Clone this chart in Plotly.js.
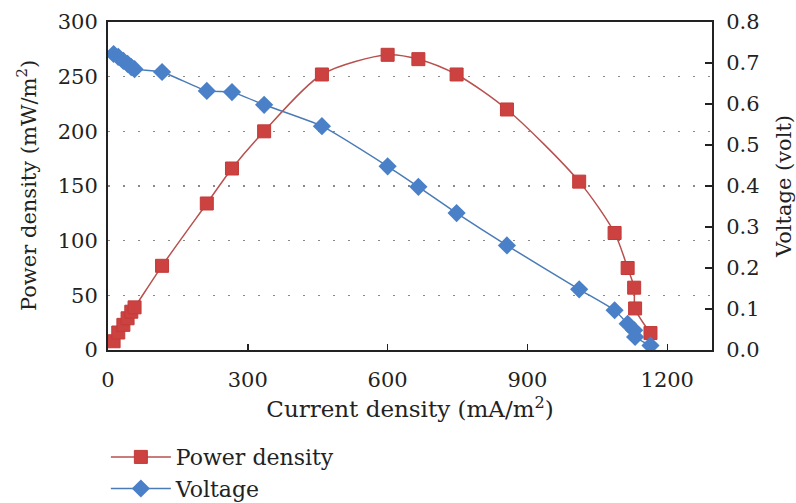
<!DOCTYPE html>
<html>
<head>
<meta charset="utf-8">
<script src="https://cdn.plot.ly/plotly-3.0.1.min.js"></script>
<style>html,body{margin:0;padding:0;background:#fff;}#chart{width:796px;height:503px;}</style>
</head>
<body>
<div id="chart"></div>
<script>
// Current density (mA/m^2)
var currentDensity = [12, 22, 33, 42, 50, 57, 116, 212, 266, 335, 459, 600, 666, 748, 856, 1011, 1087, 1115, 1129, 1131, 1164];
// Power density (mW/m^2)
var powerDensity = [8, 16, 23, 29, 35, 39, 77, 134, 166, 200, 252, 270, 266, 252, 220, 154, 107, 75, 57, 38, 15.5];
// Voltage (volt)
var voltage = [0.722, 0.715, 0.705, 0.698, 0.69, 0.685, 0.678, 0.632, 0.629, 0.598, 0.546, 0.448, 0.398, 0.334, 0.255, 0.148, 0.097, 0.064, 0.048, 0.032, 0.011];

var xTicks = [0, 300, 600, 900, 1200];
var yTicks = [0, 50, 100, 150, 200, 250, 300];
var y2Ticks = [0, 0.1, 0.2, 0.3, 0.4, 0.5, 0.6, 0.7, 0.8];

var fontFam = "DejaVu Serif, Liberation Serif, serif";

var traces = [
  {
    x: currentDensity, y: powerDensity, name: 'Power density',
    type: 'scatter', mode: 'lines+markers',
    line: {color: '#b8504e', width: 1.5, shape: 'spline', smoothing: 0.8},
    marker: {symbol: 'square', size: 13, color: '#cc4240', line: {color: '#c23b39', width: 1}},
    yaxis: 'y'
  },
  {
    x: currentDensity, y: voltage, name: 'Voltage',
    type: 'scatter', mode: 'lines+markers',
    line: {color: '#4a7bb7', width: 1.5, shape: 'spline', smoothing: 0.5},
    marker: {symbol: 'diamond', size: 14, color: '#4a80c8', line: {color: '#4a80c8', width: 0}},
    yaxis: 'y2'
  }
];

var layout = {
  width: 796, height: 503,
  margin: {l: 108, r: 84, t: 22, b: 153, autoexpand: false},
  paper_bgcolor: '#fff', plot_bgcolor: '#fff',
  font: {family: fontFam, size: 20, color: '#222'},
  showlegend: true,
  legend: {
    xref: 'container', yref: 'container',
    x: 0.133, y: 0.133, xanchor: 'left', yanchor: 'top',
    font: {family: fontFam, size: 22, color: '#222'},
    bgcolor: 'rgba(0,0,0,0)', itemwidth: 60, tracegroupgap: 0
  },
  xaxis: {
    range: [0, 1296], tickvals: xTicks, ticktext: xTicks.map(String),
    showline: true, linecolor: '#222', linewidth: 2, mirror: true,
    ticks: 'inside', ticklen: 6, tickwidth: 1.5, tickcolor: '#222',
    ticklabelstandoff: 10, automargin: true,
    showgrid: false, zeroline: false,
    tickfont: {family: fontFam, size: 21, color: '#222'},
    title: {text: 'Current density (mA/m<sup>2</sup>)', font: {family: fontFam, size: 23, color: '#222'}, standoff: 10}
  },
  yaxis: {
    range: [0, 300], tickvals: yTicks, ticktext: yTicks.map(String),
    showline: true, linecolor: '#222', linewidth: 2,
    ticks: '', showgrid: true, gridcolor: '#888', gridwidth: 1.5, griddash: '2px,13px',
    zeroline: false, ticklabelstandoff: 4, automargin: true,
    tickfont: {family: fontFam, size: 21, color: '#222'},
    title: {text: ''}
  },
  yaxis2: {
    range: [0, 0.8], tickvals: y2Ticks, ticktext: y2Ticks.map(function(v){return v.toFixed(1);}),
    overlaying: 'y', side: 'right',
    showline: true, linecolor: '#222', linewidth: 2,
    ticks: 'inside', ticklen: 7, tickwidth: 1.5, tickcolor: '#222',
    ticklabelstandoff: 8, automargin: true,
    showgrid: false, zeroline: false,
    tickfont: {family: fontFam, size: 21, color: '#222'},
    title: {text: 'Voltage (volt)', font: {family: fontFam, size: 21, color: '#222'}, standoff: 18}
  },
  annotations: [
    {
      text: 'Power density (mW/m<sup>2</sup>)', xref: 'paper', yref: 'paper',
      x: -0.134, y: 0.5, xanchor: 'center', yanchor: 'middle', textangle: -90,
      showarrow: false, font: {family: fontFam, size: 21, color: '#222'}
    }
  ]
};

Plotly.newPlot('chart', traces, layout, {displayModeBar: false, staticPlot: true});
</script>
</body>
</html>
